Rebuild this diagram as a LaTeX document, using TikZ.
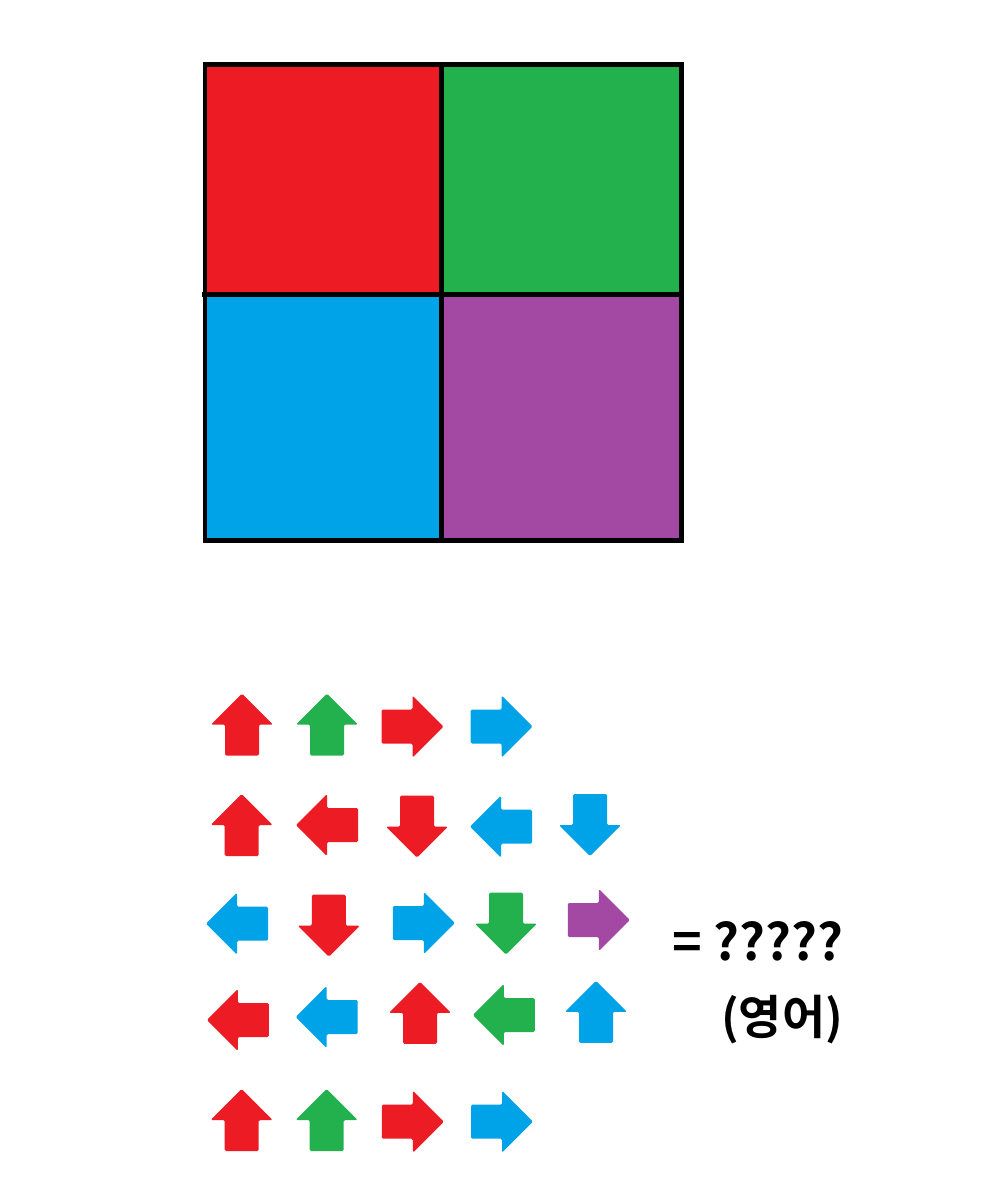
\documentclass[tikz,border=0pt]{standalone}
\usepackage{fontspec}
\newfontfamily\kr{Noto Sans CJK KR}[BoldFont={Noto Sans CJK KR Bold}]
\definecolor{pred}{HTML}{ED1C24}
\definecolor{pgreen}{HTML}{22B14C}
\definecolor{pblue}{HTML}{00A2E8}
\definecolor{ppurple}{HTML}{A349A4}
\tikzset{
  pics/arrowshape/.style={code={
    \fill[#1,rounded corners=1.2pt] (0,-31) -- (31,0) -- (17,0) -- (17,31) -- (-17,31) -- (-17,0) -- (-31,0) -- cycle;
  }},
  up/.style={rotate=0},
  rt/.style={rotate=-90},
  lt/.style={rotate=90},
  dn/.style={rotate=180},
  cell/.style={line width=3.9pt, draw=black},
  lbl/.style={font=\kr\bfseries\fontsize{43}{50}\selectfont, inner sep=0pt},
  lbltwo/.style={font=\kr\bfseries\fontsize{40}{48}\selectfont, inner sep=0pt}
}
\begin{document}
\begin{tikzpicture}[x=0.03cm,y=-0.03cm]
\fill[white] (0,0) rectangle (1000,1200);
\useasboundingbox (0,0) rectangle (1000,1200);
% square grid
\fill[pred] (205,64.3) rectangle (441.5,294.3);
\fill[pgreen] (441.5,64.3) rectangle (681.3,294.3);
\fill[pblue] (205,294.3) rectangle (441.5,540.7);
\fill[ppurple] (441.5,294.3) rectangle (681.3,540.7);
\draw[cell] (205,64.3) rectangle (681.3,540.7);
\draw[cell] (441.5,64.3) -- (441.5,540.7);
\draw[cell] (202,294.3) -- (681.3,294.3);
% row 1
\pic[up] at (242,724.5) {arrowshape=pred};
\pic[up] at (327,724.5) {arrowshape=pgreen};
\pic[rt] at (412.5,726.5) {arrowshape=pred};
\pic[rt] at (501.7,726.5) {arrowshape=pblue};
% row 2
\pic[up] at (241.7,825) {arrowshape=pred};
\pic[lt] at (327,825) {arrowshape=pred};
\pic[dn] at (417,826.7) {arrowshape=pred};
\pic[lt] at (501,826.7) {arrowshape=pblue};
\pic[dn] at (590,825) {arrowshape=pblue};
% row 3
\pic[lt] at (237,923.7) {arrowshape=pblue};
\pic[dn] at (328.8,925.7) {arrowshape=pred};
\pic[rt] at (423.8,923) {arrowshape=pblue};
\pic[dn] at (506,923.7) {arrowshape=pgreen};
\pic[rt] at (598.8,920) {arrowshape=ppurple};
% row 4
\pic[lt] at (237.8,1020) {arrowshape=pred};
\pic[lt] at (326.7,1017) {arrowshape=pblue};
\pic[up] at (420,1012.8) {arrowshape=pred};
\pic[lt] at (503.8,1015) {arrowshape=pgreen};
\pic[up] at (596,1011.8) {arrowshape=pblue};
% row 5
\pic[up] at (241.7,1120) {arrowshape=pred};
\pic[up] at (326.7,1120) {arrowshape=pgreen};
\pic[rt] at (412.8,1121.7) {arrowshape=pred};
\pic[rt] at (502,1121.7) {arrowshape=pblue};
% text
\node[lbl, anchor=base] (ans) at (758,960) {= ?????};
\node[lbltwo, anchor=center] (lang) at (782,1020) {(영어)};
\end{tikzpicture}
\end{document}
